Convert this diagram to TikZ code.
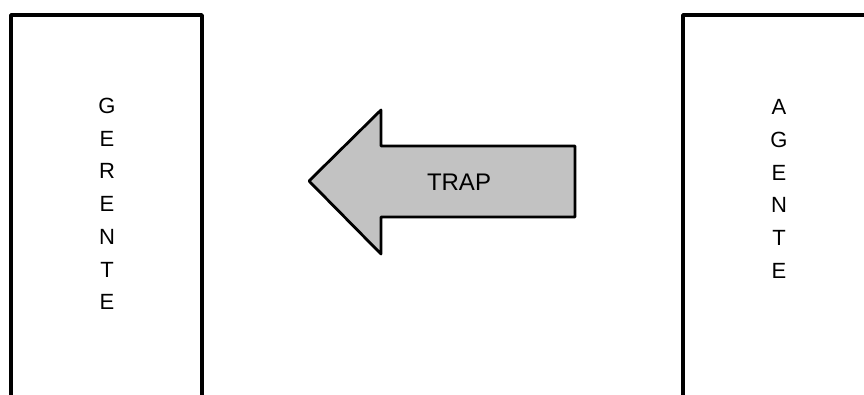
\documentclass[tikz,border=0pt]{standalone}
\usepackage{fontspec}
\setmainfont{Liberation Sans}
\begin{document}
\begin{tikzpicture}[x=1pt,y=-1pt,
  boxstyle/.style={draw=black,line width=3.8pt,line join=round,fill=white},
  arrowstyle/.style={draw=black,line width=2.8pt,line join=round,fill=black!24},
  vlabel/.style={inner sep=0pt,align=center,font=\fontsize{22}{32.7}\selectfont},
  tlabel/.style={inner sep=0pt,font=\fontsize{24}{28}\selectfont}]
\useasboundingbox (0,0) rectangle (864,394);
\clip (0,0) rectangle (864,394);
\draw[boxstyle] (11,15) rectangle (202,410);
\draw[boxstyle] (683,15) rectangle (874,410);
\draw[arrowstyle] (309,181) -- (381,110) -- (381,146) -- (575,146) -- (575,217) -- (381,217) -- (381,254) -- cycle;
\node[vlabel] (gerente) at (107,204) {G\\E\\R\\E\\N\\T\\E};
\node[vlabel] (agente) at (779,189) {A\\G\\E\\N\\T\\E};
\node[tlabel] (trap) at (459,182) {TRAP};
\end{tikzpicture}
\end{document}
